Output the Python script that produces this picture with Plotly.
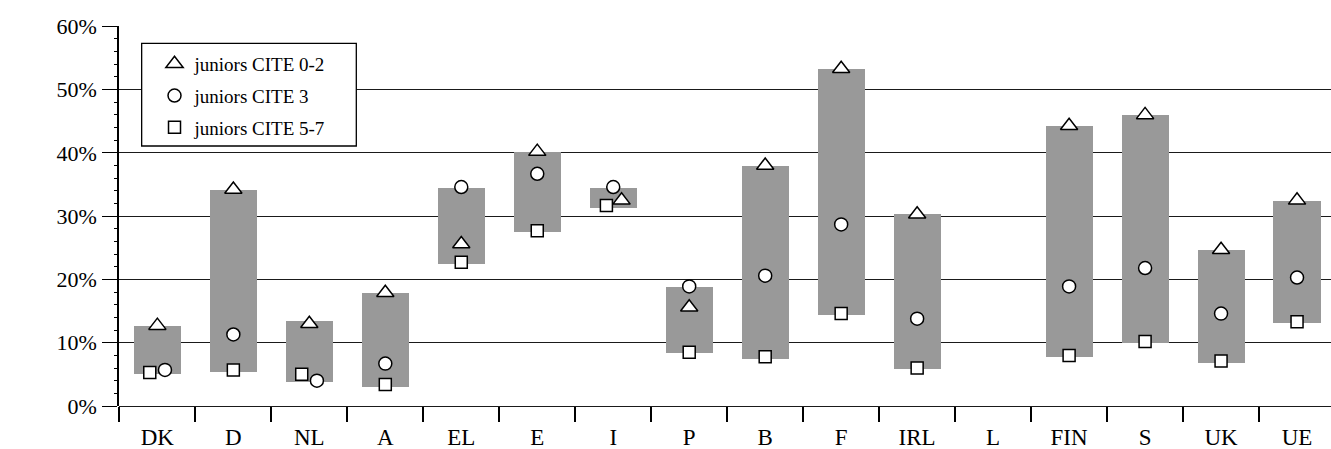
import plotly.graph_objects as go

countries = ["DK", "D", "NL", "A", "EL", "E", "I", "P", "B", "F", "IRL", "L", "FIN", "S", "UK", "UE"]
cite_0_2 = [12.7, 34.2, 13.0, 17.9, 25.6, 40.2, 32.5, 15.6, 38.0, 53.3, 30.3, None, 44.3, 46.0, 24.7, 32.5]
cite_3   = [5.7, 11.3, 4.0, 6.7, 34.6, 36.7, 34.6, 18.9, 20.6, 28.7, 13.8, None, 18.9, 21.8, 14.6, 20.3]
cite_5_7 = [5.3, 5.7, 5.0, 3.4, 22.7, 27.7, 31.7, 8.5, 7.8, 14.6, 6.0, None, 8.0, 10.2, 7.1, 13.3]
range_low  = [5.0, 5.35, 3.8, 3.0, 22.5, 27.5, 31.3, 8.3, 7.45, 14.4, 5.8, None, 7.7, 9.9, 6.8, 13.1]
range_high = [12.6, 34.2, 13.4, 17.9, 34.4, 40.2, 34.4, 18.8, 38.0, 53.2, 30.3, None, 44.2, 46.0, 24.6, 32.4]
y_ticks = [0, 10, 20, 30, 40, 50, 60]
y_tick_labels = ["0%", "10%", "20%", "30%", "40%", "50%", "60%"]

# horizontal dodge (in category units) used where markers overlap
dodge_0_2 = [0, 0, 0, 0, 0, 0, 0.11, 0, 0, 0, 0, 0, 0, 0, 0, 0]
dodge_3   = [0.1, 0, 0.1, 0, 0, 0, 0, 0, 0, 0, 0, 0, 0, 0, 0, 0]
dodge_5_7 = [-0.1, 0, -0.1, 0, 0, 0, -0.09, 0, 0, 0, 0, 0, 0, 0, 0, 0]

FONT = "Liberation Serif"
pos = list(range(len(countries)))

fig = go.Figure()

heights = [None if h is None else h - l for h, l in zip(range_high, range_low)]
fig.add_trace(go.Bar(
    x=pos, y=heights, base=range_low, width=0.62,
    marker=dict(color="#999999", line=dict(width=0)),
    showlegend=False, hoverinfo="skip",
))

def add_series(vals, dodge, name, symbol, size):
    fig.add_trace(go.Scatter(
        x=[p + d for p, d in zip(pos, dodge)], y=vals, mode="markers", name=name,
        legendgroup=name,
        marker=dict(symbol=symbol, size=size, color="white",
                    line=dict(color="black", width=1.5)),
    ))

add_series(cite_0_2, dodge_0_2, "juniors CITE 0-2", "triangle-up", 15)
add_series(cite_3, dodge_3, "juniors CITE 3", "circle", 13)
add_series(cite_5_7, dodge_5_7, "juniors CITE 5-7", "square", 12)

# legend frame
fig.add_shape(type="rect", xref="paper", yref="paper",
              x0=0.0187, x1=0.1958, y0=0.6842, y1=0.9545,
              fillcolor="white", line=dict(color="black", width=1.3), layer="above")

fig.update_layout(
    width=1331, height=449,
    margin=dict(l=119, r=0, t=26, b=43, autoexpand=False),
    paper_bgcolor="white", plot_bgcolor="white",
    font=dict(family=FONT, color="black", size=23),
    showlegend=True,
    legend=dict(
        x=0.0293, y=0.95, xanchor="left", yanchor="top",
        bgcolor="rgba(0,0,0,0)", borderwidth=0,
        font=dict(family=FONT, size=19, color="black"),
        traceorder="grouped", tracegroupgap=4,
    ),
    xaxis=dict(
        range=[-0.505, 15.447],
        tickvals=pos, ticktext=countries,
        ticks="outside", ticklen=10, tickcolor="rgba(0,0,0,0)",
        ticklabelstandoff=0,
        showgrid=False, zeroline=False, showline=False, automargin=False,
        minor=dict(tickvals=[p - 0.5 for p in pos] + [len(pos) - 0.5],
                   ticks="outside", ticklen=15, tickwidth=1.5, tickcolor="black",
                   showgrid=False),
        tickfont=dict(family=FONT, size=23),
    ),
    yaxis=dict(
        range=[0, 60.05],
        tickvals=y_ticks, ticktext=y_tick_labels,
        ticks="outside", ticklen=15, tickwidth=1.4, tickcolor="black",
        ticklabelstandoff=1, automargin=False,
        showgrid=True, gridcolor="#1a1a1a", gridwidth=1.4,
        zeroline=True, zerolinecolor="#1a1a1a", zerolinewidth=1.4,
        showline=True, linecolor="black", linewidth=1.5,
        minor=dict(dtick=2, ticks="outside", ticklen=3, tickwidth=1.2,
                   tickcolor="black", showgrid=False),
        tickfont=dict(family=FONT, size=22),
    ),
    bargap=0,
)

fig.write_html("out.html", config={"displayModeBar": False},
               post_script="document.body.style.margin='0';")
